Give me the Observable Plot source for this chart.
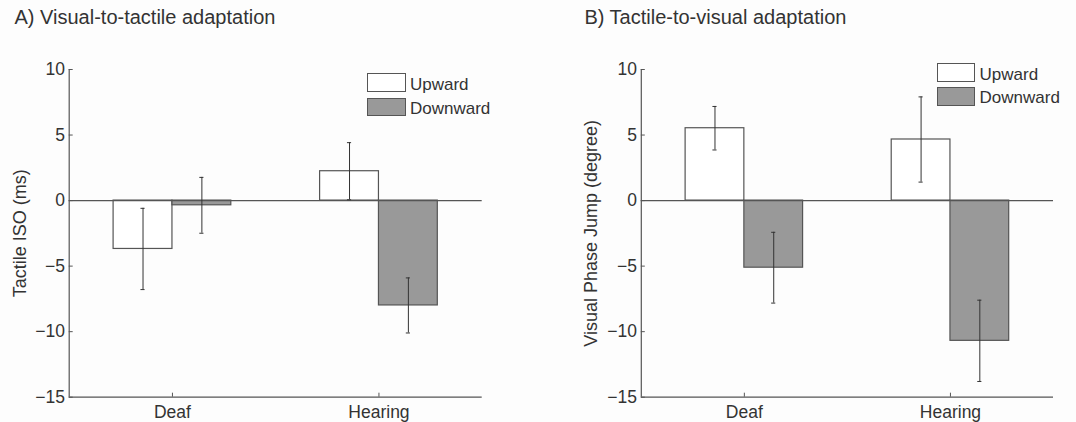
<!DOCTYPE html>
<html><head><meta charset="utf-8">
<script src="https://cdn.jsdelivr.net/npm/d3@7"></script>
<script src="https://cdn.jsdelivr.net/npm/@observablehq/plot@0.6"></script>
<style>
body{margin:0;background:#fdfdfd;}
#wrap{position:relative;width:1076px;height:422px;overflow:hidden;font-family:"Liberation Sans",Arial,sans-serif;color:#333;}
.panel{position:absolute;top:0;}
.title{position:absolute;font-size:20px;line-height:20px;white-space:nowrap;}
.lbox{position:absolute;box-sizing:border-box;border:1.3px solid #555;}
.ltext{position:absolute;font-size:17px;line-height:17px;white-space:nowrap;}
</style></head><body><div id="wrap"></div>
<script>
// ---- data ----
const groups = ["Deaf", "Hearing"];
const series = ["Upward", "Downward"];
const yTicks = [-15, -10, -5, 0, 5, 10];

const titleA = "A) Visual-to-tactile adaptation";
const ylabelA = "Tactile ISO (ms)";
const aUp = [-3.69, 2.24];
const aDown = [-0.36, -8.0];
const aUpErr = [3.1, 2.18];
const aDownErr = [2.13, 2.1];

const titleB = "B) Tactile-to-visual adaptation";
const ylabelB = "Visual Phase Jump (degree)";
const bUp = [5.52, 4.66];
const bDown = [-5.12, -10.7];
const bUpErr = [1.66, 3.25];
const bDownErr = [2.7, 3.1];

const fillColors = ["#ffffff", "#999999"];
const W = 0.285;

function panel({up, down, upErr, downErr, ylabel, marginLeft, marginRight, labelX}) {
  const rows = groups.flatMap((g, i) => [
    {group: g, gi: i + 1, s: 0, series: series[0], v: up[i], e: upErr[i]},
    {group: g, gi: i + 1, s: 1, series: series[1], v: down[i], e: downErr[i]}
  ]);
  const x1 = d => d.gi - W + d.s * W;
  const x2 = d => d.gi + d.s * W;
  const cx = d => d.gi - W / 2 + d.s * W;
  return Plot.plot({
    width: 538, height: 422,
    marginLeft, marginRight, marginTop: 69, marginBottom: 25.3,
    style: {fontFamily: '"Liberation Sans", Arial, sans-serif', fontSize: "17.5px", color: "#333", background: "transparent", overflow: "visible"},
    x: {domain: [0.5, 2.5]},
    y: {domain: [-15, 10]},
    color: {domain: series, range: fillColors},
    marks: [
      Plot.rectY(rows, {x1, x2, y1: 0, y2: "v", fill: "series", stroke: "#555", strokeWidth: 1.2}),
      Plot.ruleY([0], {stroke: "#555", strokeWidth: 1.2}),
      Plot.ruleX(rows, {x: cx, y1: d => d.v - d.e, y2: d => d.v + d.e, stroke: "#333", strokeWidth: 1}),
      Plot.ruleY(rows, {y: d => d.v + d.e, x1: d => cx(d) - 0.01, x2: d => cx(d) + 0.01, stroke: "#333", strokeWidth: 1}),
      Plot.ruleY(rows, {y: d => d.v - d.e, x1: d => cx(d) - 0.01, x2: d => cx(d) + 0.01, stroke: "#333", strokeWidth: 1}),
      Plot.ruleX([0.5], {stroke: "#555", strokeWidth: 1.2}),
      Plot.ruleY([-15], {stroke: "#555", strokeWidth: 1.2}),
      Plot.axisY({ticks: yTicks, tickSize: -4, tickPadding: 8.3, label: null, stroke: "#555", fill: "#333",
        tickFormat: d => d < 0 ? "\u2212" + Math.abs(d) : String(d)}),
      Plot.axisX({ticks: [1, 2], tickSize: -4, tickPadding: 12, label: null, stroke: "#555", fill: "#333",
        tickFormat: d => groups[d - 1]}),
      Plot.text([ylabel], {text: d => d, frameAnchor: "left", rotate: -90, dx: labelX - marginLeft, fill: "#333", fontSize: 18, textAnchor: "middle", lineAnchor: "middle"})
    ]
  });
}

const wrap = document.getElementById("wrap");
function add(el, left) { el.classList.add("panel"); el.style.left = left + "px"; wrap.appendChild(el); }
add(panel({up: aUp, down: aDown, upErr: aUpErr, downErr: aDownErr, ylabel: ylabelA, marginLeft: 68.7, marginRight: 56.3, labelX: 20}), 0);
add(panel({up: bUp, down: bDown, upErr: bUpErr, downErr: bDownErr, ylabel: ylabelB, marginLeft: 102.8, marginRight: 23, labelX: 53}), 538);

function div(cls, text, style) {
  const d = document.createElement("div");
  d.className = cls;
  if (text) d.textContent = text;
  Object.assign(d.style, style);
  wrap.appendChild(d);
}
// titles
div("title", titleA, {left: "14.5px", top: "7px"});
div("title", titleB, {left: "584.4px", top: "7px"});
// legends
function legend(x, yUp, yDown, textX) {
  div("lbox", "", {left: x + "px", top: yUp + "px", width: "38.5px", height: "19px", background: fillColors[0]});
  div("lbox", "", {left: x + "px", top: yDown + "px", width: "38.5px", height: "18.5px", background: fillColors[1]});
  div("ltext", series[0], {left: textX + "px", top: (yUp + 17 - 14.4 + 0.5) + "px"});
  div("ltext", series[1], {left: textX + "px", top: (yDown + 16 - 14.4 + 0.3) + "px"});
}
legend(367.3, 73.3, 97.7, 410);
legend(936.5, 63, 87, 979.6);
</script></body></html>
